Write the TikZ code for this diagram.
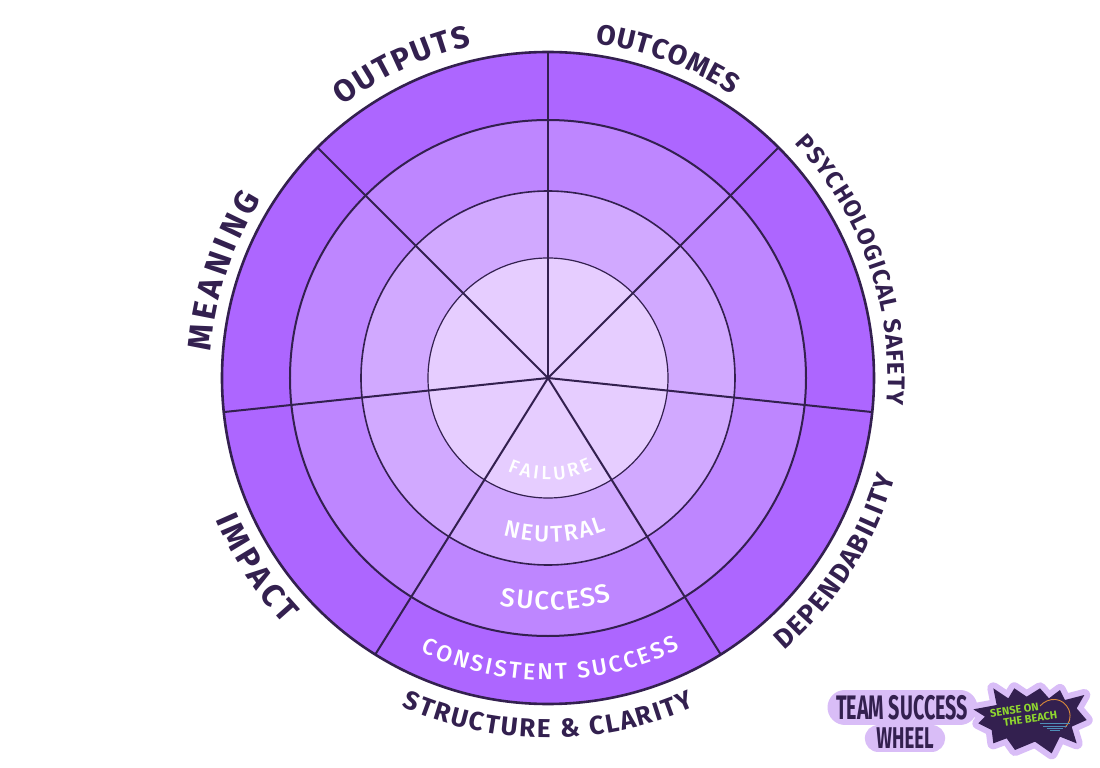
\documentclass[tikz,border=0pt]{standalone}
\usepackage{fontspec}
\usepackage{graphicx}
\usetikzlibrary{decorations.text}
\setmainfont{Fira Sans}
\newfontfamily\whitehand{Fira Sans Medium}
\definecolor{ink}{HTML}{33204F}
\definecolor{ringa}{HTML}{AD66FF}
\definecolor{ringb}{HTML}{BE86FF}
\definecolor{ringc}{HTML}{D1A9FF}
\definecolor{ringd}{HTML}{E6CDFF}
\definecolor{halo}{HTML}{D9BDF7}
\definecolor{lime}{HTML}{8FD62F}
\definecolor{sunc}{HTML}{D9893A}
\definecolor{wave}{HTML}{4F8FB8}
\definecolor{paper}{HTML}{FFFFFF}
\tikzset{
  ring/.style={circle,draw=ink,line width=2pt,inner sep=0pt,outer sep=0pt},
  spoke/.style={draw=ink,line width=2pt},
}
\newcommand{\arclabel}[6]{%
  \path[decorate,decoration={text along path,text align={fit to path},
    text={|\fontsize{#1pt}{#1pt}\selectfont#2|#6}}]
    (#3:#5pt) arc[start angle=#3,end angle=#4,radius=#5pt];}
\begin{document}
\begin{tikzpicture}[x=1pt,y=1pt]
\useasboundingbox[fill=paper] (-548,-390) rectangle (552,378);
\coordinate (c) at (0,0);
\node[ring,fill=ringa,minimum size=652pt,line width=2.6pt] (r4) at (c) {};
\node[ring,fill=ringb,minimum size=516pt] (r3) at (c) {};
\node[ring,fill=ringc,minimum size=374pt,line width=1.6pt] (r2) at (c) {};
\node[ring,fill=ringd,minimum size=240pt,line width=1.2pt] (r1) at (c) {};
\foreach \a in {90,45,135,-6.5,186,238,302}{
  \draw[spoke] (c) -- (r4.\a);
}
% outer labels
\arclabel{31}{\bfseries\color{ink}}{127}{103}{341}{OUTPUTS}
\arclabel{28}{\bfseries\color{ink}}{82}{57}{338}{OUTCOMES}
\arclabel{24}{\bfseries\color{ink}}{43.5}{-4.5}{340}{PSYCHOLOGICAL SAFETY}
\arclabel{27}{\bfseries\color{ink}}{-49}{-16}{361}{DEPENDABILITY}
\arclabel{26}{\bfseries\color{ink}}{246}{294}{360}{STRUCTURE {\&} CLARITY}
\arclabel{32}{\bfseries\color{ink}}{203}{223}{361}{IMPACT}
\arclabel{33}{\bfseries\color{ink}}{175.5}{148}{338}{MEANING}
% inner labels
\arclabel{19}{\whitehand\color{white}}{246.5}{296}{102}{FAILURE}
\arclabel{23}{\whitehand\color{white}}{254}{291}{164}{NEUTRAL}
\arclabel{26}{\whitehand\color{white}}{258}{286}{232}{SUCCESS}
\arclabel{23}{\whitehand\color{white}}{245}{296}{302}{CONSISTENT SUCCESS}
% title block (coordinates in 3x crop units)
\begin{scope}[shift={(272,-292)},x=0.3333pt,y=-0.3333pt]
  \draw[halo,line width=35pt,line cap=round] (75,112) -- (420,112);
  \draw[halo,line width=27pt,line cap=round] (175,205) -- (335,205);
  \node[ink,inner sep=0pt] (title1) at (246,112) {\scalebox{0.58}[1]{\bfseries\fontsize{34pt}{34pt}\selectfont TEAM SUCCESS}};
  \node[ink,inner sep=0pt] (title2) at (255,205) {\scalebox{0.62}[1]{\bfseries\fontsize{30pt}{30pt}\selectfont WHEEL}};
\end{scope}
\begin{scope}[shift={(417,-302)},x=0.3333pt,y=-0.3333pt]
  \def\starpath{(25,88) -- (95,75) -- (85,25) -- (130,55) -- (148,25) -- (185,50) -- (225,25) -- (252,55) -- (285,30) -- (300,60) -- (358,45) -- (335,85) -- (365,120) -- (320,140) -- (335,190) -- (285,170) -- (260,220) -- (210,185) -- (150,210) -- (125,175) -- (85,190) -- (80,150) -- (40,130) -- (60,110) -- cycle}
  \draw[halo,fill=halo,line width=12pt,line join=round] \starpath;
  \fill[ink] \starpath;
  \draw[sunc,line width=0.9pt] (225,78) .. controls (250,50) and (295,50) .. (312,90) .. controls (320,115) and (312,130) .. (300,142);
  \foreach \yy/\xa/\xb in {130/225/315,138/235/305,146/245/295,152/255/285}{
    \draw[wave,line width=0.5pt] (\xa,\yy) -- (\xb,\yy);
  }
  \node[lime,font=\bfseries\fontsize{11pt}{10.5pt}\selectfont,rotate=8,align=left,inner sep=0pt] (brand) at (176,103) {SENSE ON\\\hspace*{12pt}THE BEACH};
\end{scope}
\end{tikzpicture}
\end{document}
